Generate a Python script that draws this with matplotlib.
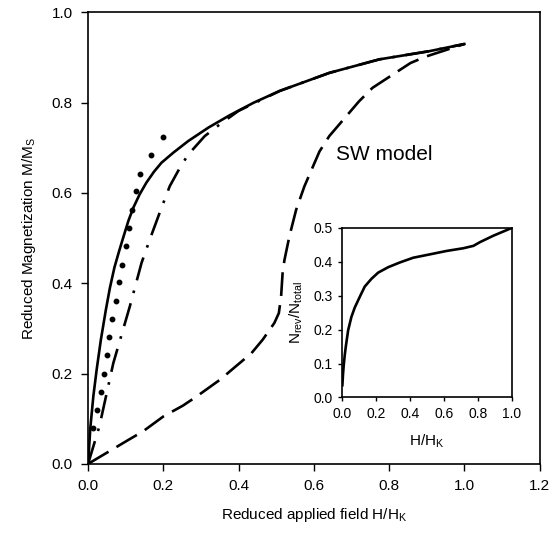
import matplotlib
matplotlib.use('Agg')
import matplotlib.pyplot as plt

plt.rcParams['font.family'] = ['Liberation Sans', 'DejaVu Sans']

## Data
# solid curve
solid_h = [0, 0.006, 0.014, 0.023, 0.034, 0.047, 0.058, 0.070, 0.082, 0.094, 0.107, 0.12,
           0.137, 0.155, 0.175, 0.195, 0.226, 0.266, 0.32, 0.376, 0.44, 0.509, 0.641,
           0.774, 0.906, 1.0]
solid_m = [0, 0.08, 0.15, 0.21, 0.275, 0.34, 0.39, 0.435, 0.47, 0.503, 0.538, 0.567,
           0.597, 0.623, 0.647, 0.667, 0.689, 0.715, 0.745, 0.772, 0.8, 0.826, 0.866,
           0.896, 0.914, 0.93]
# dotted curve (markers)
dot_h = [0.014, 0.025, 0.034, 0.042, 0.049, 0.056, 0.064, 0.073, 0.082, 0.091, 0.100,
         0.109, 0.118, 0.128, 0.138, 0.166, 0.200]
dot_m = [0.08, 0.12, 0.16, 0.20, 0.242, 0.281, 0.321, 0.361, 0.402, 0.441, 0.482,
         0.522, 0.563, 0.604, 0.643, 0.684, 0.724]
# dash-dot curve
dd_h = [0, 0.03, 0.067, 0.111, 0.142, 0.164, 0.195, 0.217, 0.244, 0.266, 0.31, 0.35,
        0.40, 0.509, 0.641, 0.774, 0.906, 1.0]
dd_m = [0, 0.083, 0.223, 0.349, 0.445, 0.497, 0.567, 0.615, 0.656, 0.685, 0.726, 0.752,
        0.782, 0.826, 0.866, 0.896, 0.914, 0.93]
# dashed curve (SW model)
sw_h = [0, 0.107, 0.146, 0.2, 0.252, 0.288, 0.35, 0.394, 0.434, 0.464, 0.495, 0.507,
        0.513, 0.517, 0.522, 0.535, 0.553, 0.575, 0.615, 0.641, 0.72, 0.756, 0.857,
        0.897, 1.0]
sw_m = [0, 0.053, 0.072, 0.105, 0.129, 0.149, 0.186, 0.217, 0.245, 0.275, 0.312, 0.334,
        0.371, 0.423, 0.452, 0.504, 0.563, 0.615, 0.692, 0.726, 0.803, 0.833, 0.888,
        0.902, 0.93]
# inset: N_rev / N_total
in_h = [0, 0.004, 0.008, 0.014, 0.02, 0.034, 0.053, 0.073, 0.103, 0.132, 0.172, 0.211,
        0.27, 0.339, 0.418, 0.517, 0.615, 0.714, 0.773, 0.812, 0.891, 1.0]
in_n = [0.036, 0.07, 0.095, 0.125, 0.149, 0.198, 0.237, 0.265, 0.297, 0.327, 0.35, 0.368,
        0.384, 0.398, 0.412, 0.422, 0.432, 0.44, 0.447, 0.458, 0.477, 0.5]

fig = plt.figure(figsize=(5.54, 5.40), dpi=100)
ax = fig.add_axes([0.159, 0.141, 0.815, 0.836])

ax.plot(solid_h, solid_m, 'k-', lw=1.9)
ax.plot(dot_h, dot_m, 'ko', ms=3.2, ls='none')
ax.plot(dd_h, dd_m, color='k', lw=1.9, dashes=(9, 4, 1, 4))
ax.plot(sw_h, sw_m, color='k', lw=1.9, dashes=(9, 3.5))

ax.text(0.66, 0.685, 'SW model', fontsize=15, ha='left', va='center')

ax.set_xlim(0, 1.2)
ax.set_ylim(0, 1.0)
ax.set_xticks([0, 0.2, 0.4, 0.6, 0.8, 1.0, 1.2])
ax.set_yticks([0, 0.2, 0.4, 0.6, 0.8, 1.0])
ax.xaxis.set_major_formatter(plt.FormatStrFormatter('%.1f'))
ax.yaxis.set_major_formatter(plt.FormatStrFormatter('%.1f'))
ax.tick_params(direction='out', length=5, width=1, labelsize=11, top=False, right=False, pad=6)
ax.set_xlabel('Reduced applied field H/H$_\\mathregular{K}$', fontsize=11, labelpad=9)
ax.set_ylabel('Reduced Magnetization M/M$_\\mathregular{S}$', fontsize=11, labelpad=10)
for s in ax.spines.values():
    s.set_linewidth(1.2)

## Inset
axi = fig.add_axes([0.618, 0.264, 0.306, 0.314])
axi.plot(in_h, in_n, 'k-', lw=1.9)
axi.set_xlim(0, 1.0)
axi.set_ylim(0, 0.5)
axi.set_xticks([0, 0.2, 0.4, 0.6, 0.8, 1.0])
axi.set_yticks([0, 0.1, 0.2, 0.3, 0.4, 0.5])
axi.xaxis.set_major_formatter(plt.FormatStrFormatter('%.1f'))
axi.yaxis.set_major_formatter(plt.FormatStrFormatter('%.1f'))
axi.tick_params(direction='out', length=3, width=1, labelsize=10, top=False, right=False, pad=4)
axi.set_xlabel('H/H$_\\mathregular{K}$', fontsize=11, labelpad=8)
axi.set_ylabel('N$_\\mathregular{rev}$/N$_\\mathregular{total}$', fontsize=11, labelpad=6)
for s in axi.spines.values():
    s.set_linewidth(1.2)

fig.savefig('out.png', dpi=100)
